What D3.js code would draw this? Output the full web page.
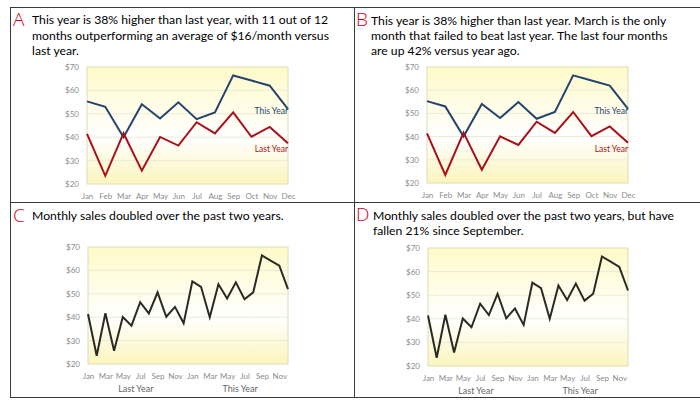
<!DOCTYPE html>
<html><head><meta charset="utf-8">
<script src="https://cdn.jsdelivr.net/npm/d3@7"></script>
<style>body{margin:0;background:#fff}svg{display:block}</style>
</head><body><svg id="c" width="700" height="402"></svg>
<script>
const months = ["Jan","Feb","Mar","Apr","May","Jun","Jul","Aug","Sep","Oct","Nov","Dec"];
const thisYear = [55.3,53,40,54.1,48,54.9,47.7,50.6,66.4,64.2,62,52];
const lastYear = [41.4,23.5,41.7,25.7,40.1,36.4,46.4,41.6,50.6,40.2,44.4,37.4];
const yTicks = [20,30,40,50,60,70];
const yearLabels = ["Last Year","This Year"];
const letters = ["A","B","C","D"];
const titles = [
  ["This year is 38% higher than last year, with 11 out of 12","months outperforming an average of $16/month versus","last year."],
  ["This year is 38% higher than last year. March is the only","month that failed to beat last year. The last four months","are up 42% versus year ago."],
  ["Monthly sales doubled over the past two years."],
  ["Monthly sales doubled over the past two years, but have","fallen 21% since September."]
];

const FONT = "Lato, 'Open Sans', sans-serif";
const svg = d3.select("#c");

// fit title font to reference width
const cv = document.createElement("canvas").getContext("2d");
cv.font = "14px " + FONT;
const wRef = cv.measureText(titles[0][0]).width;
const titleSize = 14 * 298 / wRef;

const panels = [
  {letterX:13, textX:32, base:[24,39.5,55], plot:{x0:87,x1:288,y0:67,y1:184}, type:"two"},
  {letterX:356, textX:371, base:[24.5,39.5,55], plot:{x0:427,x1:628,y0:67,y1:183}, type:"two"},
  {letterX:13, textX:32, base:[220], plot:{x0:88,x1:288,y0:247,y1:364}, type:"seq"},
  {letterX:356, textX:373, base:[219.5,235], plot:{x0:428,x1:628,y0:248,y1:366}, type:"seq"}
];

// frame
const g0 = svg.append("g");
g0.append("rect").attr("x",10.5).attr("y",7.5).attr("width",700).attr("height",390)
  .attr("fill","none").attr("stroke","#3a3a3a").attr("stroke-width",1);
g0.append("line").attr("x1",354.5).attr("x2",354.5).attr("y1",7.5).attr("y2",397.5).attr("stroke","#3a3a3a");
g0.append("line").attr("x1",10.5).attr("x2",700).attr("y1",202.5).attr("y2",202.5).attr("stroke","#3a3a3a");

// gradient
const defs = svg.append("defs");
const grad = defs.append("linearGradient").attr("id","bg").attr("x1",0).attr("x2",0).attr("y1",0).attr("y2",1);
grad.append("stop").attr("offset","0%").attr("stop-color","#fffac8");
grad.append("stop").attr("offset","60%").attr("stop-color","#ffffff");
grad.append("stop").attr("offset","100%").attr("stop-color","#fbf5bd");

panels.forEach((p,i) => {
  const g = svg.append("g");
  g.append("text").attr("x",p.letterX).attr("y",p.base[0]+1.5)
    .attr("font-family","'Open Sans', sans-serif").attr("font-size",19).attr("font-weight",300)
    .attr("fill","#d0021b").text(letters[i]);
  titles[i].forEach((line,k) => {
    g.append("text").attr("x",p.textX).attr("y",p.base[k])
      .attr("font-family",FONT).attr("font-size",titleSize).attr("fill","#000").text(line);
  });
  const P = p.plot;
  const y = d3.scaleLinear().domain([20,70]).range([P.y1,P.y0]);
  g.append("rect").attr("x",P.x0).attr("y",P.y0).attr("width",P.x1-P.x0).attr("height",P.y1-P.y0)
    .attr("fill","url(#bg)").attr("stroke","#dcdcb8").attr("stroke-width",1);
  g.selectAll(".grid").data(yTicks.slice(1,-1)).enter().append("line")
    .attr("x1",P.x0).attr("x2",P.x1).attr("y1",d=>y(d)).attr("y2",d=>y(d))
    .attr("stroke","#ecebd4").attr("stroke-width",1);
  const ya = g.append("g").attr("transform",`translate(${P.x0-1},0)`)
    .call(d3.axisLeft(y).tickValues(yTicks).tickSize(0).tickPadding(7).tickFormat(d=>"$"+d));
  ya.select(".domain").remove();
  ya.selectAll("text").attr("font-family",FONT).attr("font-size",8).attr("fill","#8c8c8c");

  if (p.type==="two") {
    const x = d3.scalePoint().domain(months).range([P.x0,P.x1]);
    const xa = g.append("g").attr("transform",`translate(0,${P.y1})`)
      .call(d3.axisBottom(x).tickSize(0).tickPadding(9));
    xa.select(".domain").remove();
    xa.selectAll("text").attr("font-family",FONT).attr("font-size",8).attr("fill","#8c8c8c");
    const line = d3.line().x((d,j)=>x(months[j])).y(d=>y(d));
    g.append("path").datum(thisYear).attr("d",line).attr("fill","none")
      .attr("stroke","#24436e").attr("stroke-width",2).attr("stroke-linejoin","miter");
    g.append("path").datum(lastYear).attr("d",line).attr("fill","none")
      .attr("stroke","#a8101c").attr("stroke-width",2).attr("stroke-linejoin","miter");
    g.append("text").attr("x",P.x1).attr("y",P.y0+47).attr("text-anchor","end")
      .attr("font-family",FONT).attr("font-size",8.5).attr("fill","#24436e").text(yearLabels[1]);
    g.append("text").attr("x",P.x1).attr("y",P.y0+85).attr("text-anchor","end")
      .attr("font-family",FONT).attr("font-size",8.5).attr("fill","#a8101c").text(yearLabels[0]);
  } else {
    const all = lastYear.concat(thisYear);
    const idx = d3.range(all.length);
    const x = d3.scalePoint().domain(idx).range([P.x0,P.x1]);
    const xa = g.append("g").attr("transform",`translate(0,${P.y1})`)
      .call(d3.axisBottom(x).tickValues(idx.filter(j=>j%2===0)).tickSize(0).tickPadding(9)
        .tickFormat(j=>months[j%12]));
    xa.select(".domain").remove();
    xa.selectAll("text").attr("font-family",FONT).attr("font-size",8).attr("fill","#8c8c8c");
    [0,1].forEach(k => {
      const cx = (x(k*12) + x(k*12+11))/2;
      g.append("text").attr("x",cx).attr("y",P.y1+28).attr("text-anchor","middle")
        .attr("font-family",FONT).attr("font-size",9).attr("fill","#666").text(yearLabels[k]);
    });
    const line = d3.line().x((d,j)=>x(j)).y(d=>y(d));
    g.append("path").datum(all).attr("d",line).attr("fill","none")
      .attr("stroke","#2a2a24").attr("stroke-width",2).attr("stroke-linejoin","miter");
  }
});
</script>
</body></html>
